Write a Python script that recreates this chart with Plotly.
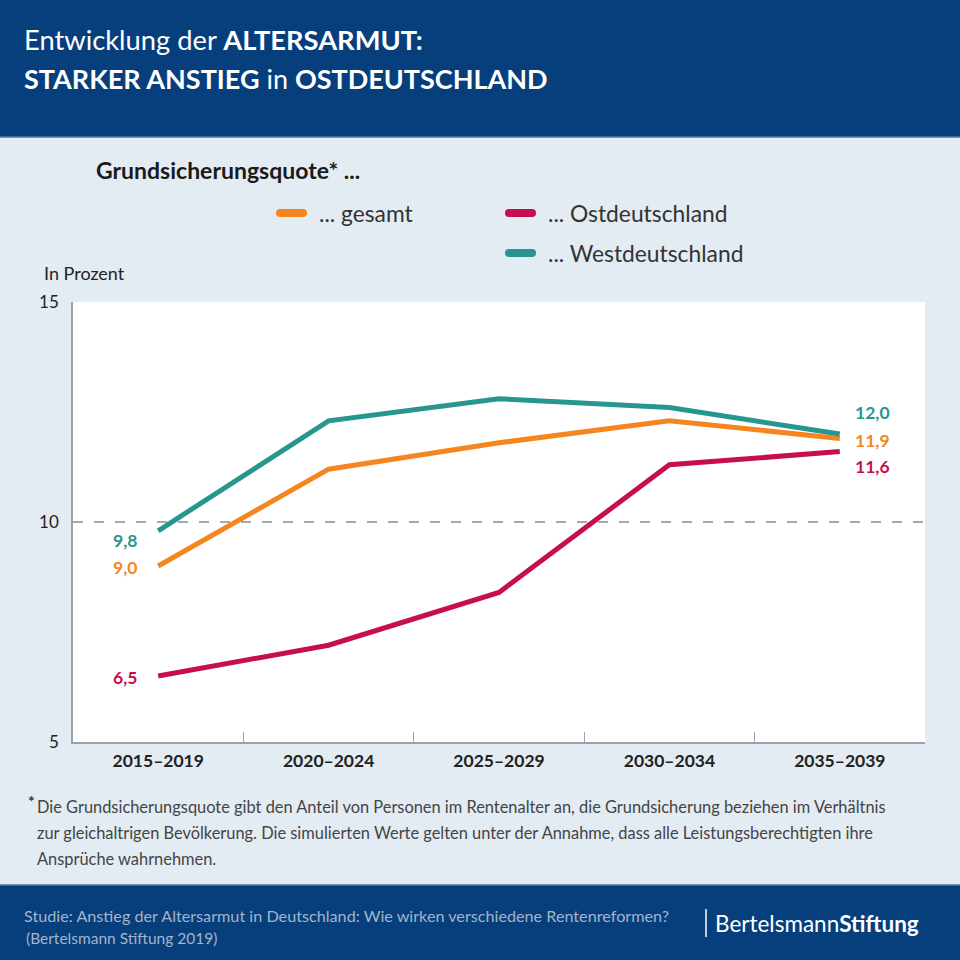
import plotly.graph_objects as go

# data
periods = ["2015–2019", "2020–2024", "2025–2029", "2030–2034", "2035–2039"]
gesamt = [9.0, 11.2, 11.8, 12.3, 11.9]
ost = [6.5, 7.2, 8.4, 11.3, 11.6]
west = [9.8, 12.3, 12.8, 12.6, 12.0]

series_names = ["... gesamt", "... Ostdeutschland", "... Westdeutschland"]
y_ticks = [5, 10, 15]

NAVY = "#063f7c"
BG = "#e3ebf3"
ORANGE = "#f5861f"
CRIMSON = "#c70f4e"
TEAL = "#27968f"
FONT = "Lato"

W, H = 960, 960
ML, MR, MT, MB = 73, 35, 302, 218
PW = W - ML - MR
PH = H - MT - MB


def px(x):
    return (x - ML) / PW


def py(y):
    return (H - MB - y) / PH


fig = go.Figure()

series = [
    (series_names[0], gesamt, ORANGE),
    (series_names[1], ost, CRIMSON),
    (series_names[2], west, TEAL),
]
for name, vals, col in series:
    fig.add_trace(go.Scatter(x=periods, y=vals, name=name, mode="lines",
                             line=dict(color=col, width=5), showlegend=False))


def fmt(v):
    return f"{v:.1f}".replace(".", ",")


# value labels at both ends
left_shift = {"... gesamt": -1, "... Ostdeutschland": -1, "... Westdeutschland": -10}
right_shift = {"... gesamt": -2, "... Ostdeutschland": -15, "... Westdeutschland": 22}
for name, vals, col in series:
    fig.add_annotation(x=periods[0], y=vals[0], text=f"<b>{fmt(vals[0])}</b>", showarrow=False,
                       xanchor="center", xshift=-33, yshift=left_shift[name],
                       font=dict(family=FONT, size=17.5, color=col))
    fig.add_annotation(x=periods[-1], y=vals[-1], text=f"<b>{fmt(vals[-1])}</b>", showarrow=False,
                       xanchor="center", xshift=33, yshift=right_shift[name],
                       font=dict(family=FONT, size=17.5, color=col))

# header and footer bands
fig.add_shape(type="rect", xref="paper", yref="paper", x0=px(0), x1=px(W),
              y0=py(0), y1=py(137), fillcolor=NAVY, line_width=0, layer="below")
fig.add_shape(type="line", xref="paper", yref="paper", x0=px(0), x1=px(W),
              y0=py(137), y1=py(137), line=dict(color="#4f78a8", width=1.5))
fig.add_shape(type="rect", xref="paper", yref="paper", x0=px(0), x1=px(W),
              y0=py(885), y1=py(H), fillcolor=NAVY, line_width=0, layer="below")
fig.add_shape(type="line", xref="paper", yref="paper", x0=px(0), x1=px(W),
              y0=py(885), y1=py(885), line=dict(color="#4f78a8", width=1.5))


def text(x, y, t, size, color="#333333", anchor="left"):
    fig.add_annotation(xref="paper", yref="paper", x=px(x), y=py(y), text=t,
                       showarrow=False, xanchor=anchor, yanchor="middle",
                       font=dict(family=FONT, size=size, color=color))


# title
text(22, 39, "Entwicklung der <b>ALTERSARMUT:</b>", 27.3, "white")
text(22, 78, "<b>STARKER ANSTIEG</b> in <b>OSTDEUTSCHLAND</b>", 27, "white")

# subtitle and legend
text(94, 170, "<b>Grundsicherungsquote* ...</b>", 23, "#1a1a1a")
legend_pos = [(276, 213), (505, 213), (505, 253)]
for (name, vals, col), (lx, ly) in zip(series, legend_pos):
    fig.add_shape(type="line", xref="paper", yref="paper", x0=px(lx + 4), x1=px(lx + 27),
                  y0=py(ly), y1=py(ly), line=dict(color=col, width=8))
    fig.add_shape(type="circle", xref="paper", yref="paper", x0=px(lx), x1=px(lx + 8),
                  y0=py(ly - 4), y1=py(ly + 4), fillcolor=col, line_width=0)
    fig.add_shape(type="circle", xref="paper", yref="paper", x0=px(lx + 23), x1=px(lx + 31),
                  y0=py(ly - 4), y1=py(ly + 4), fillcolor=col, line_width=0)
    text(lx + 41, ly, name, 22.8, "#333333")

text(42, 273, "In Prozent", 18, "#222222")

# footnote
text(26, 800, "<b>*</b>", 16, "#333333")
text(35, 806, "Die Grundsicherungsquote gibt den Anteil von Personen im Rentenalter an, die Grundsicherung beziehen im Verhältnis", 16.4, "#444444")
text(35, 832, "zur gleichaltrigen Bevölkerung. Die simulierten Werte gelten unter der Annahme, dass alle Leistungsberechtigten ihre", 16.4, "#444444")
text(35, 858, "Ansprüche wahrnehmen.", 16.4, "#444444")

# footer
text(22, 915, "Studie: Anstieg der Altersarmut in Deutschland: Wie wirken verschiedene Rentenreformen?", 16.2, "#a3b4cb")
text(24, 938, "(Bertelsmann Stiftung 2019)", 15.5, "#a3b4cb")
fig.add_shape(type="line", xref="paper", yref="paper", x0=px(706), x1=px(706),
              y0=py(909), y1=py(937), line=dict(color="white", width=1.5))
text(713, 923, "Bertelsmann<b>Stiftung</b>", 22.5, "white")

fig.update_layout(
    width=W, height=H,
    margin=dict(l=ML, r=MR, t=MT, b=MB),
    paper_bgcolor=BG, plot_bgcolor="white",
    showlegend=False,
    font=dict(family=FONT),
)
fig.update_xaxes(
    type="category", range=[-0.5, 4.5],
    showline=True, linecolor="#9aa3ad", linewidth=1.5,
    ticks="inside", tickson="boundaries", ticklen=10, tickcolor="#9aa3ad", tickwidth=1,
    showgrid=False, zeroline=False, ticklabelstandoff=2,
    tickfont=dict(family=FONT, size=17.5, color="#222222", weight="bold"),
)
fig.update_yaxes(
    range=[5, 15], tickvals=y_ticks, ticktext=[str(v) for v in y_ticks],
    showline=True, linecolor="#9aa3ad", linewidth=1.5,
    showgrid=True, gridcolor="#a8a8a8", gridwidth=1.5, griddash="10px,11px",
    zeroline=False, ticks="", ticklabelstandoff=9,
    tickfont=dict(family=FONT, size=17, color="#222222"),
)

# page body margin would push the 960px figure out of the window
fig.write_html("out.html", config={"displayModeBar": False},
               post_script="document.body.style.margin='0';")
